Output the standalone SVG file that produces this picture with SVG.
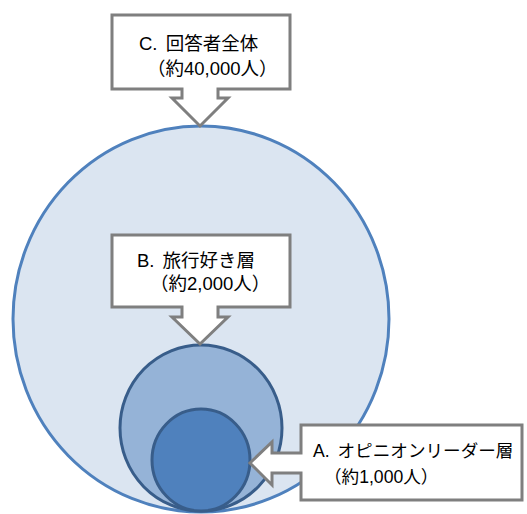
<svg xmlns="http://www.w3.org/2000/svg" width="527" height="514" viewBox="0 0 527 514">
<style>
.call{fill:#ffffff;stroke:#7f7f7f;stroke-width:3;stroke-linejoin:miter}
.t{font-family:"Liberation Sans","Noto Sans CJK JP",sans-serif;font-size:18.5px;fill:#000000;word-spacing:3px}
.s{font-size:17.6px}
</style>
<rect width="527" height="514" fill="#ffffff"/>
<g id="circles">
<g id="C-circle"><ellipse cx="201" cy="319" rx="188" ry="193" fill="#dbe5f1" stroke="#4f81bd" stroke-width="3"/></g>
<g id="B-circle"><ellipse cx="201" cy="428" rx="81" ry="83" fill="#95b3d7" stroke="#385d8a" stroke-width="3"/></g>
<g id="A-circle"><ellipse cx="201" cy="460" rx="49" ry="51" fill="#4f81bd" stroke="#385d8a" stroke-width="3"/></g>
</g>
<g id="connectors">
<path class="call" d="M112,15 H290 V89 H218 V98 H228 L200,126 L172,98 H182 V89 H112 Z"/>
<path class="call" d="M112,235 H290 V307 H218 V317 H228 L200,344 L172,317 H182 V307 H112 Z"/>
<path class="call" d="M301,425 H522 V500 H301 V473 H272 V485 L250,463 L272,442 V453 H301 Z"/>
</g>
<g id="label-C">
<text class="t" x="139" y="50">C. 回答者全体</text>
<text class="t" x="147" y="75">（約40,000人）</text>
</g>
<g id="label-B">
<text class="t" x="137" y="267">B. 旅行好き層</text>
<text class="t" x="150" y="290">（約2,000人）</text>
</g>
<g id="label-A">
<text class="t s" x="313" y="457">A. オピニオンリーダー層</text>
<text class="t s" x="324" y="483">（約1,000人）</text>
</g>
</svg>
